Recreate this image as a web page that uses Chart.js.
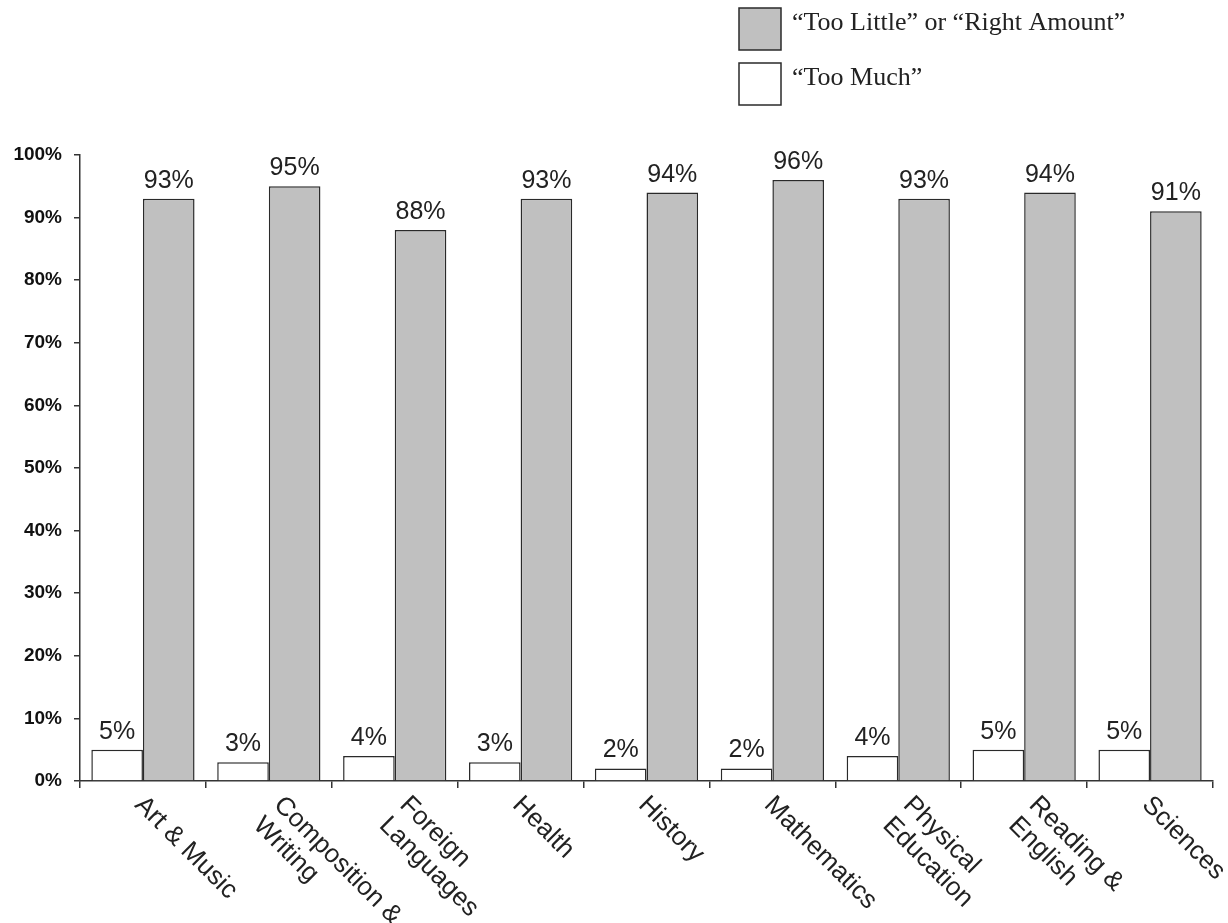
<!DOCTYPE html>
<html>
<head>
<meta charset="utf-8">
<script src="https://cdn.jsdelivr.net/npm/chart.js@4/dist/chart.umd.min.js"></script>
<style>
  html, body { margin: 0; padding: 0; background: #fff; }
  canvas { display: block; }
</style>
</head>
<body>
<canvas id="subjectChart" width="1228" height="923"></canvas>
<script>

// data
const subjects = [
    ['Art & Music'],
    ['Composition &', 'Writing'],
    ['Foreign', 'Languages'],
    ['Health'],
    ['History'],
    ['Mathematics'],
    ['Physical', 'Education'],
    ['Reading &', 'English'],
    ['Sciences']
];
const tooMuch = [5, 3, 4, 3, 2, 2, 4, 5, 5];
const littleOrRight = [93, 95, 88, 93, 94, 96, 93, 94, 91];
const seriesNames = ['\u201CToo Much\u201D', '\u201CToo Little\u201D or \u201CRight Amount\u201D'];
const yTicks = [0, 10, 20, 30, 40, 50, 60, 70, 80, 90, 100];

const COLORS = {
    white: '#ffffff',
    grey: '#c0c0c0',
    edge: '#2a2a2a',
    axis: '#333333'
};

//value labels above each bar
const valueLabels = {
    id: 'valueLabels',
    afterDatasetsDraw(chart) {
        const ctx = chart.ctx;
        ctx.save();
        ctx.font = '25px "Liberation Sans", Arial, sans-serif';
        ctx.fillStyle = '#222';
        ctx.textAlign = 'center';
        ctx.textBaseline = 'alphabetic';
        chart.data.datasets.forEach((ds, i) => {
            chart.getDatasetMeta(i).data.forEach((bar, j) => {
                ctx.fillText(ds.data[j] + '%', bar.x, bar.y - 11);
            });
        });
        ctx.restore();
    }
};

//slanted category names, text runs down to the right from the category centre
const slantLabels = {
    id: 'slantLabels',
    afterDraw(chart) {
        const ctx = chart.ctx;
        const x = chart.scales.x;
        const lineH = 29;
        ctx.save();
        ctx.font = '26px "Liberation Sans", Arial, sans-serif';
        ctx.fillStyle = '#222';
        ctx.textAlign = 'left';
        ctx.textBaseline = 'middle';
        subjects.forEach((lines, i) => {
            // two-line names start a little further right, like the original
            const shift = lines.length > 1 ? 9 : -4;
            const cx = x.getPixelForValue(i) + shift;
            ctx.save();
            ctx.translate(cx, x.top + 20);
            ctx.rotate(Math.PI / 4);
            lines.forEach((txt, k) => {
                ctx.fillText(txt, 0, k * lineH);
            });
            ctx.restore();
        });
        ctx.restore();
    }
};

//legend box in top right, grey series listed first
const boxLegend = {
    id: 'boxLegend',
    afterDraw(chart) {
        const ctx = chart.ctx;
        const items = chart.data.datasets.slice().reverse();
        ctx.save();
        ctx.font = '26px "Liberation Serif", "Times New Roman", serif';
        ctx.textBaseline = 'alphabetic';
        items.forEach((ds, i) => {
            const top = 8 + i * 55;
            ctx.fillStyle = ds.backgroundColor;
            ctx.fillRect(739, top, 42, 42);
            ctx.strokeStyle = COLORS.edge;
            ctx.lineWidth = 1.5;
            ctx.strokeRect(739, top, 42, 42);
            ctx.fillStyle = '#222';
            ctx.fillText(ds.label, 792, top + 22);
        });
        ctx.restore();
    }
};

const config = {
    type: 'bar',
    data: {
        labels: subjects.map(s => s.join(' ')),
        datasets: [
            {
                label: seriesNames[0],
                data: tooMuch,
                backgroundColor: COLORS.white,
                borderColor: COLORS.edge,
                borderWidth: 1.5
            },
            {
                label: seriesNames[1],
                data: littleOrRight,
                backgroundColor: COLORS.grey,
                borderColor: COLORS.edge,
                borderWidth: 1.5
            }
        ]
    },
    options: {
        responsive: false,
        animation: false,
        categoryPercentage: 0.82,
        barPercentage: 1.0,
        layout: {
            padding: { top: 155, right: 15, left: 0, bottom: 0 }
        },
        plugins: {
            legend: { display: false },
            tooltip: { enabled: false }
        },
        scales: {
            x: {
                grid: {
                    offset: true,
                    drawOnChartArea: false,
                    drawTicks: true,
                    tickLength: 7,
                    color: COLORS.axis,
                    lineWidth: 1.5
                },
                border: { color: COLORS.axis, width: 1.5 },
                ticks: { display: false },
                afterFit(scale) {
                    scale.height = 142;
                }
            },
            y: {
                min: 0,
                max: 100,
                afterBuildTicks(scale) {
                    scale.ticks = yTicks.map(v => ({ value: v }));
                },
                grid: {
                    drawOnChartArea: false,
                    drawTicks: true,
                    tickLength: 6,
                    color: COLORS.axis,
                    lineWidth: 1.5
                },
                border: { color: COLORS.axis, width: 1.5 },
                ticks: {
                    color: '#111',
                    padding: 12,
                    font: { family: '"Liberation Sans", Arial, sans-serif', size: 19, weight: 'bold' },
                    callback: v => v + '%'
                },
                afterFit(scale) {
                    scale.width = 80;
                }
            }
        }
    },
    plugins: [valueLabels, slantLabels, boxLegend]
};

const subjectChart = new Chart(document.getElementById('subjectChart'), config);

</script>
</body>
</html>
